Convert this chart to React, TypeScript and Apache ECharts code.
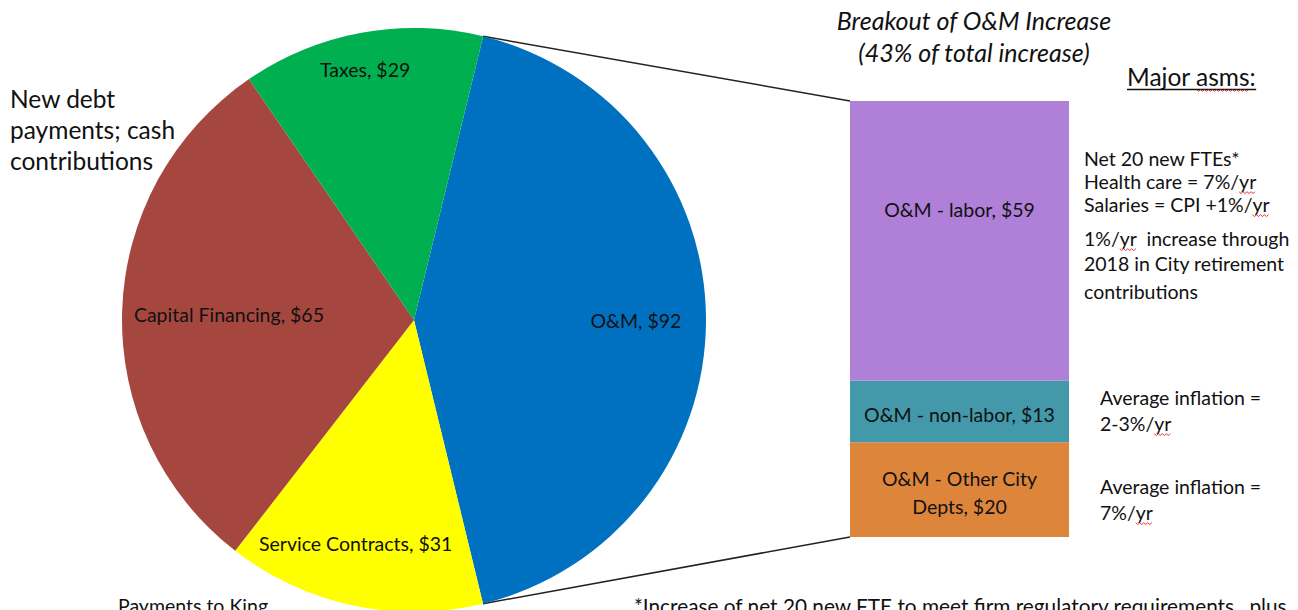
import React, { useEffect, useRef } from "react";
import * as echarts from "echarts";

const pieNames = ["O&M", "Service Contracts", "Capital Financing", "Taxes"];
const pieValues = [92, 31, 65, 29];
const pieColors = ["#0070C0", "#FFFF00", "#A5473F", "#00B050"];
const labelRadiusFrac = [0.76, 0.79, 0.634, 0.873];
const labelAngleShift = [0, -2.6, 0, 0.7];

const barNames = ["O&M - Other City\nDepts", "O&M - non-labor", "O&M - labor"];
const barValues = [20, 13, 59];
const barColors = ["#DE853C", "#4398AA", "#B07FD8"];

const FONT = "Lato, 'Open Sans', sans-serif";

export default function App() {
  const ref = useRef<HTMLDivElement>(null);
  useEffect(() => {
    document.body.style.margin = "0";
    const chart = echarts.init(ref.current!, null, { renderer: "svg" });
    const cx = 414, cy = 320, R = 292;
    const startAngle = 76.3;
    const total = pieValues.reduce((a, b) => a + b, 0);
    const angles: number[] = [];
    let acc = startAngle;
    pieValues.forEach((v) => {
      const span = (v / total) * 360;
      angles.push(acc - span / 2);
      acc -= span;
    });
    const rad = (d: number) => (d * Math.PI) / 180;
    const omStart = startAngle;
    const omEnd = startAngle - (pieValues[0] / total) * 360;
    const p1 = [cx + R * Math.cos(rad(omStart)), cy - R * Math.sin(rad(omStart))];
    const p2 = [cx + R * Math.cos(rad(omEnd)), cy - R * Math.sin(rad(omEnd))];
    const gLeft = 850, gTop = 101, gW = 219, gH = 436;
    const barTotal = barValues.reduce((a, b) => a + b, 0);

    const canvas = document.createElement("canvas");
    const ctx = canvas.getContext("2d")!;
    const measure = (s: string, size: number, italic = false) => {
      ctx.font = `${italic ? "italic " : ""}${size}px ${FONT}`;
      return ctx.measureText(s).width;
    };

    const txt = (x: number, y: number, text: string, size: number, extra: any = {}) => ({
      type: "text",
      x,
      y,
      style: { text, fontSize: size, fontFamily: FONT, fill: "#111", verticalAlign: "middle", ...extra },
    });

    const squiggle = (x: number, y: number, prefix: string, word: string, size: number) => {
      const x0 = x + measure(prefix, size);
      const w = measure(word, size);
      const yy = y + size * 0.58;
      const pts: number[][] = [];
      for (let k = 0, xx = x0; xx <= x0 + w; k++, xx += 2) pts.push([xx, yy + (k % 2 ? 1.2 : -0.6)]);
      return { type: "polyline", shape: { points: pts }, style: { stroke: "#E02020", lineWidth: 0.9, fill: null } };
    };

    const aS = 19.5;
    const annos: [number, number, string, string?, string?][] = [
      [1084, 158, "Net 20 new FTEs*"],
      [1084, 181, "Health care = 7%/yr", "Health care = 7%/", "yr"],
      [1084, 204, "Salaries = CPI +1%/yr", "Salaries = CPI +1%/", "yr"],
      [1084, 238, "1%/yr  increase through", "1%/", "yr"],
      [1084, 263, "2018 in City retirement"],
      [1084, 291, "contributions"],
      [1100, 397, "Average inflation ="],
      [1100, 423, "2-3%/yr", "2-3%/", "yr"],
      [1100, 486, "Average inflation ="],
      [1100, 512, "7%/yr", "7%/", "yr"],
    ];
    const annoGraphics: any[] = [];
    annos.forEach(([x, y, t, pre, w]) => {
      annoGraphics.push(txt(x, y, t, aS));
      if (pre && w) annoGraphics.push(squiggle(x, y, pre, w, aS));
    });

    chart.setOption({
      animation: false,
      grid: { left: gLeft, top: gTop, width: gW, height: gH },
      xAxis: { type: "category", data: ["O&M"], show: false },
      yAxis: { type: "value", min: 0, max: barTotal, show: false },
      series: [
        {
          type: "pie",
          center: [cx, cy],
          radius: R,
          startAngle,
          clockwise: true,
          silent: true,
          data: pieNames.map((n, i) => ({ name: n, value: pieValues[i], itemStyle: { color: pieColors[i] } })),
          label: {
            show: true,
            position: "inside",
            formatter: (p: any) => `${p.name}, $${p.value}`,
            fontSize: 19.5,
            fontFamily: FONT,
            color: "#111",
          },
          labelLayout: (params: any) => {
            const i = params.dataIndex;
            const a = rad(angles[i] + labelAngleShift[i]);
            const rr = R * labelRadiusFrac[i];
            return { x: cx + rr * Math.cos(a), y: cy - rr * Math.sin(a), align: "center", verticalAlign: "middle" };
          },
        },
        ...barNames.map((n, i) => ({
          type: "bar",
          name: n,
          stack: "om",
          barWidth: "100%",
          data: [barValues[i]],
          itemStyle: { color: barColors[i] },
          label: {
            show: true,
            position: "inside",
            formatter: () => `${n}, $${barValues[i]}`,
            fontSize: 19.5,
            fontFamily: FONT,
            color: "#111",
            lineHeight: 28,
            offset: i === 2 ? [0, -31] : [0, 3],
          },
        })),
      ],
      graphic: [
        { type: "line", shape: { x1: p1[0], y1: p1[1], x2: gLeft, y2: gTop }, style: { stroke: "#222", lineWidth: 1.5 } },
        { type: "line", shape: { x1: p2[0], y1: p2[1], x2: gLeft, y2: gTop + gH }, style: { stroke: "#222", lineWidth: 1.5 } },
        txt(974, 20, "Breakout of O&M Increase", 25, { fontStyle: "italic", align: "center" }),
        txt(974, 52, "(43% of total increase)", 25, { fontStyle: "italic", align: "center" }),
        txt(1127, 76, "Major asms:", 24.5),
        { type: "line", shape: { x1: 1127, y1: 89.5, x2: 1127 + measure("Major asms:", 24.5), y2: 89.5 }, style: { stroke: "#111", lineWidth: 1.3 } },
        squiggle(1127, 76, "Major ", "asms", 24.5),
        txt(10, 98, "New debt", 24.5),
        txt(10, 129, "payments; cash", 24.5),
        txt(10, 160, "contributions", 24.5),
        ...annoGraphics,
        txt(118, 605, "Payments to King", 19.5),
        txt(634, 605, "*Increase of net 20 new FTE to meet firm regulatory requirements,  plus", 20.8),
      ],
    });
    return () => chart.dispose();
  }, []);
  return <div ref={ref} style={{ width: 1298, height: 610 }} />;
}
